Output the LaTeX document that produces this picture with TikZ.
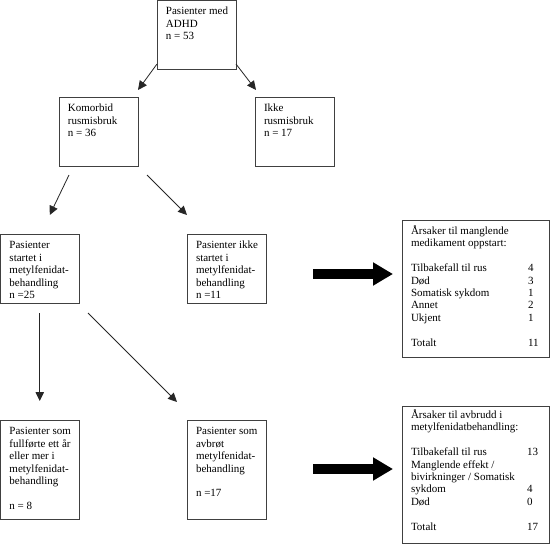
\documentclass[tikz,border=0pt]{standalone}
\usepackage{fontspec}
\setmainfont{Liberation Serif}
\usetikzlibrary{arrows.meta,calc}
\newcommand\bt[4]{\parbox[c][#2][t]{#1}{\vspace*{#3}\raggedright\leftskip=9pt\relax\hbadness=10000\strut #4}}
\newcommand\rw[3]{\makebox[#1][l]{#2}#3}
\begin{document}
\begin{tikzpicture}[x=1pt,y=-1pt,
  every node/.style={font=\fontsize{11}{12.4}\selectfont},
  box/.style={draw=black!75, line width=0.9pt, inner sep=0pt, outer sep=0pt, anchor=north west},
  conn/.style={draw=black!85, line width=0.8pt, -{Triangle[length=9pt,width=8.5pt]}},
  fat/.style={draw=black, line width=10pt, -{Triangle[length=20pt,width=22pt]}}]
\useasboundingbox[fill=white] (0,0) rectangle (550,544);
\node[box] (top) at (157,0.5) {\bt{79pt}{68.5pt}{5.8pt}{Pasienter med\\ADHD\\n = 53}};
\node[box] (kom) at (59,97) {\bt{79pt}{69pt}{6.3pt}{Komorbid\\rusmisbruk\\n = 36}};
\node[box] (ikke) at (255,97) {\bt{79pt}{69pt}{6.3pt}{Ikke\\rusmisbruk\\n = 17}};
\node[box] (star) at (0.5,234) {\bt{78.5pt}{69pt}{6.3pt}{Pasienter\\startet i\\metylfenidat-\\behandling\\n =25}};
\node[box] (ikst) at (187,234) {\bt{79pt}{69pt}{6.3pt}{Pasienter ikke\\startet i\\metylfenidat-\\behandling\\n =11}};
\node[box] (full) at (0.5,420) {\bt{78.5pt}{99pt}{6.3pt}{Pasienter som\\fullførte ett år\\eller mer i\\metylfenidat-\\behandling\\\mbox{}\\n = 8}};
\node[box] (avbr) at (187,420) {\bt{79pt}{99pt}{6.3pt}{Pasienter som\\avbrøt\\metylfenidat-\\behandling\\\mbox{}\\n =17}};
\node[box] (ars1) at (402,220) {\bt{147pt}{137pt}{5.5pt}{Årsaker til manglende\\medikament oppstart:\\\mbox{}\\
  \rw{117pt}{Tilbakefall til rus}{4}\\\rw{117pt}{Død}{3}\\\rw{117pt}{Somatisk sykdom}{1}\\\rw{117pt}{Annet}{2}\\\rw{117pt}{Ukjent}{1}\\\mbox{}\\\rw{117pt}{Totalt}{11}}};
\node[box] (ars2) at (402,406) {\bt{147pt}{137pt}{3.5pt}{Årsaker til avbrudd i\\metylfenidatbehandling:\\\mbox{}\\
  \rw{116pt}{Tilbakefall til rus}{13}\\Manglende effekt /\\bivirkninger / Somatisk\\\rw{116pt}{sykdom}{4}\\\rw{116pt}{Død}{0}\\\mbox{}\\\rw{116pt}{Totalt}{17}}};
\draw[conn] ($(top.south west)+(0,-5)$) -- ($(kom.north east)+(0,-7)$);
\draw[conn] ($(top.south east)+(0,-5)$) -- ($(ikke.north west)+(1,-7)$);
\draw[conn] ($(kom.south west)+(10,9)$) -- ($(star.north)+(10,-19)$);
\draw[conn] ($(kom.south east)+(9,9)$) -- ($(ikst.north west)+(0,-19)$);
\draw[conn] ($(star.south)+(0,10)$) -- ($(full.north)+(0,-19)$);
\draw[conn] ($(star.south east)+(9,10)$) -- ($(avbr.north west)+(-10,-18)$);
\draw[fat] ($(ikst.east)+(47,5.5)$) -- ($(ars1.west)+(-9,-14.5)$);
\draw[fat] ($(avbr.east)+(47,-0.5)$) -- ($(ars2.west)+(-9,-5.5)$);
\end{tikzpicture}
\end{document}
